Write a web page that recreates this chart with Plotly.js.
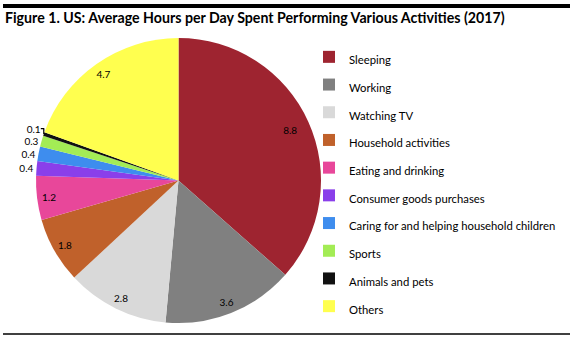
<!DOCTYPE html>
<html>
<head>
<meta charset="utf-8">
<script src="https://cdn.plot.ly/plotly-3.0.1.min.js"></script>
<style>html,body{margin:0;padding:0;background:#fff;}#chart{width:574px;height:338px;}</style>
</head>
<body>
<div id="chart"></div>
<script>
var categories = ["Sleeping","Working","Watching TV","Household activities","Eating and drinking","Consumer goods purchases","Caring for and helping household children","Sports","Animals and pets","Others"];
var hours = [8.8,3.6,2.8,1.8,1.2,0.4,0.4,0.3,0.1,4.7];
var sliceColors = ["#9E2430","#808080","#D9D9D9","#C0612B","#E8479A","#8A3FEA","#3E8DEE","#A3EC55","#111111","#FFFF4F"];
// where each value label sits: "outside" the pie, in the "inner" ring, or in the "outer" ring near the rim
var labelPlace = ["inner","outer","outer","outer","outer","outside","outside","outside","outside","outer"];

var FONT = "Lato, 'Liberation Sans', sans-serif";
var dom = {x: [36/574, 321/574], y: [1-323/338, 1-38/338]};
var valueText = hours.map(function(v){ return v.toFixed(1); });

var mainPie = {
  type: "pie",
  labels: categories.map(function(c){ return '<span style="font-size:11.3px">' + c + '</span>'; }),
  values: hours,
  text: valueText,
  textinfo: "text",
  textposition: labelPlace.map(function(p){ return p === "outside" ? "outside" : "none"; }),
  sort: false,
  direction: "clockwise",
  rotation: 0,
  marker: {colors: sliceColors, line: {width: 0}},
  outsidetextfont: {family: FONT, size: 10, color: "#000"},
  domain: dom,
  hoverinfo: "label+value"
};

// transparent rings on top, used only to place the inside value labels nearer the rim
function labelRing(place, hole) {
  return {
    type: "pie",
    labels: categories,
    values: hours,
    text: valueText,
    textinfo: "text",
    textposition: labelPlace.map(function(p){ return p === place ? "inside" : "none"; }),
    insidetextorientation: "horizontal",
    hole: hole,
    sort: false,
    direction: "clockwise",
    rotation: 0,
    showlegend: false,
    marker: {colors: hours.map(function(){ return "rgba(0,0,0,0)"; }), line: {width: 0}},
    insidetextfont: {family: FONT, size: 10, color: "#000"},
    domain: dom,
    hoverinfo: "skip"
  };
}

var layout = {
  width: 574, height: 338,
  margin: {l: 0, r: 0, t: 0, b: 0},
  paper_bgcolor: "#fff",
  font: {family: FONT, color: "#000"},
  title: {
    text: "<b>Figure 1. US: Average Hours per Day Spent Performing Various Activities (2017)</b>",
    font: {family: FONT, size: 14.2, color: "#000"},
    x: 5/574, xanchor: "left", xref: "paper",
    y: 1-18/338, yanchor: "middle", yref: "container"
  },
  showlegend: true,
  legend: {
    x: 309/574, xanchor: "left",
    y: 1-38/338, yanchor: "top",
    font: {family: FONT, size: 19, color: "#000"},
    itemwidth: 30,
    bgcolor: "rgba(0,0,0,0)"
  },
  shapes: [
    {type: "line", xref: "paper", yref: "paper", x0: 3/574, x1: 570/574, y0: 1-6/338, y1: 1-6/338, line: {color: "#000", width: 4}},
    {type: "line", xref: "paper", yref: "paper", x0: 3/574, x1: 570/574, y0: 1-334/338, y1: 1-334/338, line: {color: "#000", width: 1.5}}
  ]
};

Plotly.newPlot("chart", [mainPie, labelRing("inner", 0.72), labelRing("outer", 0.83)], layout, {displayModeBar: false, staticPlot: true});
</script>
</body>
</html>
